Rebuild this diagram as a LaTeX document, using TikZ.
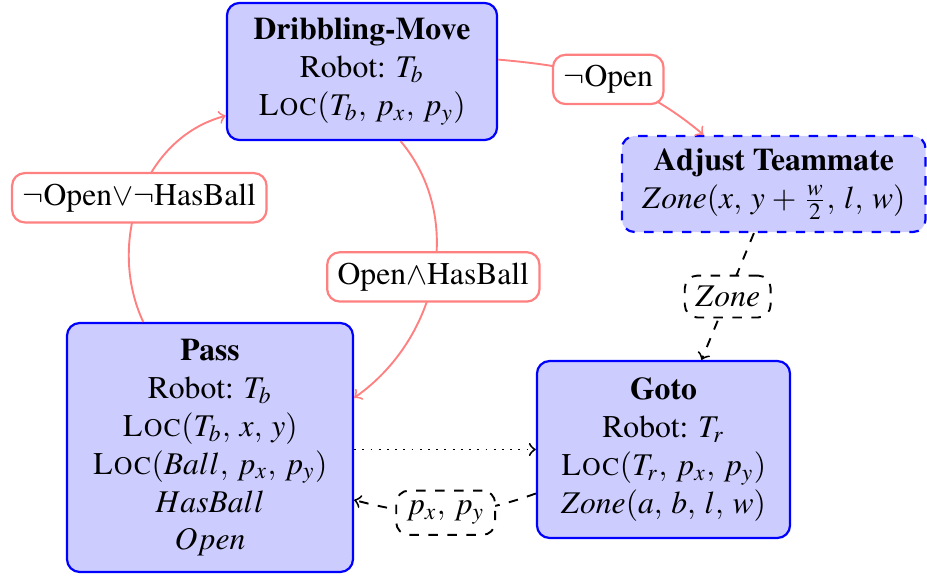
\documentclass[tikz,border=0pt]{standalone}
\usepackage[T1]{fontenc}
\usepackage{mathptmx}
\begin{document}
\thinmuskip=5mu
\medmuskip=4mu
\begin{tikzpicture}[x=0.3165pt,y=0.3165pt,
 state/.style={draw=blue, fill=blue!20, rounded corners, line width=0.7pt, align=center, inner sep=0pt},
 lbl/.style={draw=red!50, fill=white, rounded corners, line width=0.7pt, text=black},
 dlbl/.style={draw=black, dashed, fill=white, rounded corners, line width=0.6pt},
 redarr/.style={draw=red!50, line width=0.6pt, ->},
 blkarr/.style={draw=black, line width=0.6pt, ->}]
\useasboundingbox (0,0) rectangle (927,575);
\node[state, minimum width=85.5pt, minimum height=43.4pt] (drib) at (362,503.5)
  {\textbf{Dribbling-Move}\\Robot: $T_b$\\\textsc{Loc}$(T_b,p_x,p_y)$};
\node[state, dashed, minimum width=96.1pt, minimum height=30.4pt] (adj) at (773.75,391)
  {\textbf{Adjust Teammate}\\$Zone(x,y+\frac{w}{2},l,w)$};
\node[state, minimum width=90.5pt, minimum height=78.8pt] (pass) at (210,127.5)
  {\textbf{Pass}\\Robot: $T_b$\\\textsc{Loc}$(T_b,x,y)$\\\textsc{Loc}$(Ball,p_x,p_y)$\\$HasBall$\\$Open$};
\node[state, minimum width=80.1pt, minimum height=56pt] (goto) at (663.5,125.5)
  {\textbf{Goto}\\Robot: $T_r$\\\textsc{Loc}$(T_r,p_x,p_y)$\\$Zone(a,b,l,w)$};
\draw[redarr] (drib.5) to[out=-5,in=140] node[lbl] (l1) {$\neg$Open} (adj.145);
\draw[redarr] (pass.118.6) to[out=115,in=195] node[lbl] (l2) {$\neg$Open$\vee\neg$HasBall} (drib.198.6);
\draw[redarr] (drib.299) to[out=-50,in=35] node[lbl] (l3) {Open$\wedge$HasBall} (pass.19.1);
\draw[blkarr, dashed] (adj.248.7) -- node[dlbl] (l4) {$Zone$} (goto.67.6);
\draw[blkarr, dotted] (pass.east |- goto.west) -- (goto.west);
\draw[blkarr, dashed] (goto.199.8) to[out=200,in=-15] node[dlbl] (l5) {$p_x,p_y$} (pass.-20.9);
\end{tikzpicture}
\end{document}
